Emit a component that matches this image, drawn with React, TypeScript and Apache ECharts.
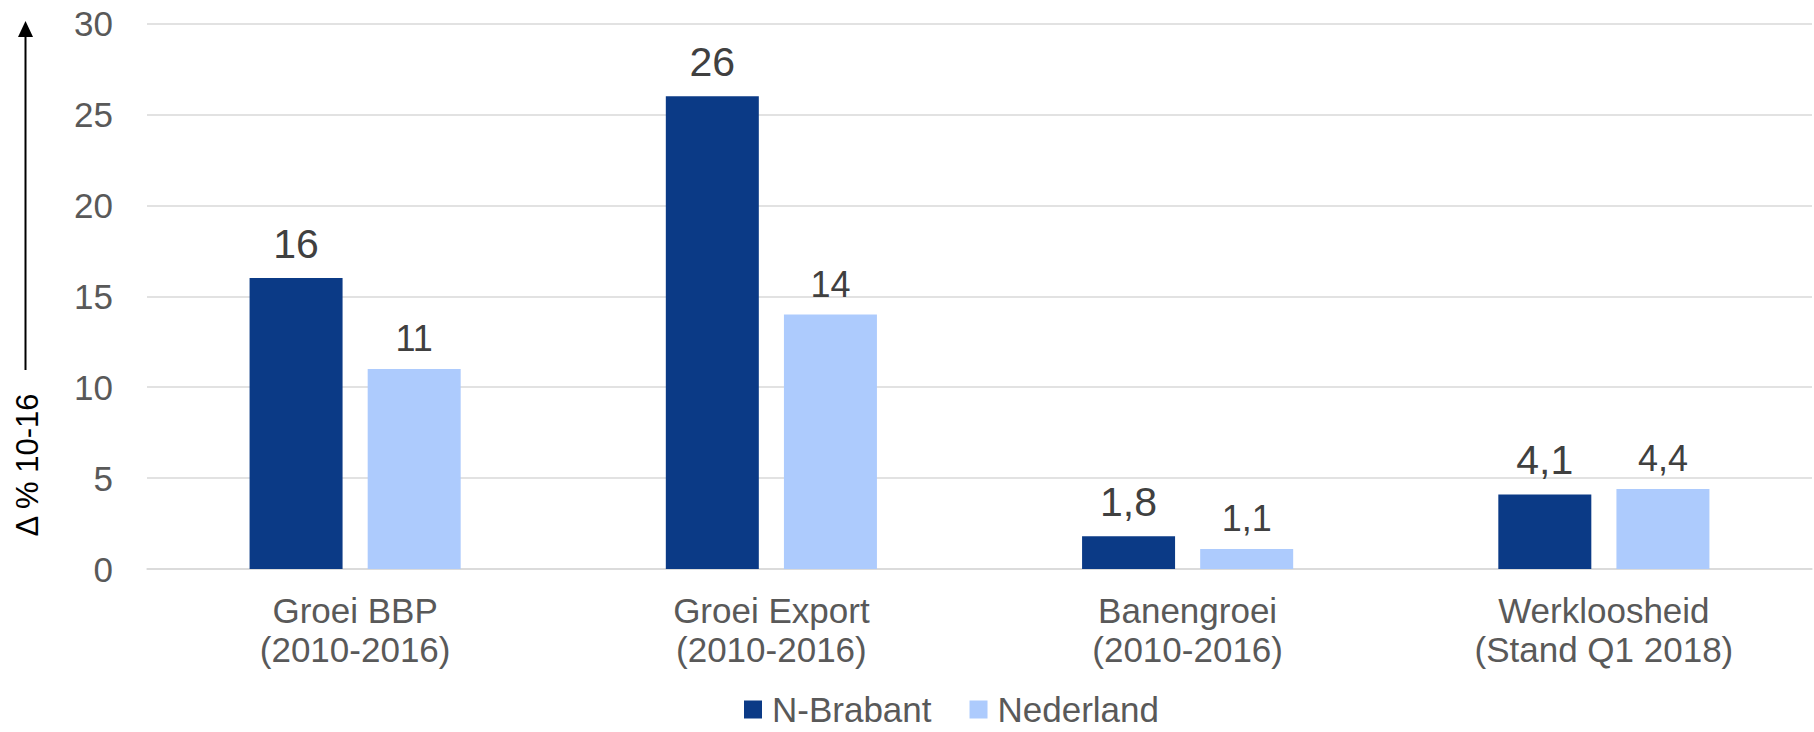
import React, { useEffect, useRef } from "react";
import * as echarts from "echarts";

const categories = [
  "Groei BBP\n(2010-2016)",
  "Groei Export\n(2010-2016)",
  "Banengroei\n(2010-2016)",
  "Werkloosheid\n(Stand Q1 2018)",
];
const seriesNames = ["N-Brabant", "Nederland"];
const brabant = [16, 26, 1.8, 4.1];
const nederland = [11, 14, 1.1, 4.4];
const yTicks = { min: 0, max: 30, interval: 5 };
const yName = "Δ % 10-16";

const FONT = "'Liberation Sans', Arial, sans-serif";
const fmt = (p: any) => String(p.value).replace(".", ",");

export default function App() {
  const ref = useRef<HTMLDivElement>(null);
  useEffect(() => {
    if (!ref.current) return;
    const chart = echarts.init(ref.current, undefined, { renderer: "svg" });
    chart.setOption({
      animation: false,
      backgroundColor: "#ffffff",
      textStyle: { fontFamily: FONT },
      grid: { left: 147, right: 2, top: 23.5, bottom: 163, containLabel: false },
      legend: {
        data: seriesNames,
        left: 744,
        top: 692,
        padding: 0,
        icon: "rect",
        itemWidth: 18,
        itemHeight: 18,
        itemGap: 38,
        textStyle: {
          fontSize: 35,
          lineHeight: 35,
          color: "#595959",
          fontFamily: FONT,
          padding: [0, 0, 0, 5],
        },
      },
      xAxis: {
        type: "category",
        data: categories,
        axisTick: { show: false },
        axisLine: { show: true, lineStyle: { color: "#d9d9d9", width: 1.5 } },
        axisLabel: {
          fontSize: 35,
          lineHeight: 39,
          color: "#595959",
          fontFamily: FONT,
          margin: 22,
          interval: 0,
        },
      },
      yAxis: {
        type: "value",
        min: yTicks.min,
        max: yTicks.max,
        interval: yTicks.interval,
        axisLine: { show: false },
        axisTick: { show: false },
        splitLine: { lineStyle: { color: "#d9d9d9", width: 1.5 } },
        axisLabel: { fontSize: 35, color: "#595959", fontFamily: FONT, margin: 34 },
      },
      graphic: [
        {
          type: "text",
          x: 27,
          y: 465,
          rotation: Math.PI / 2,
          style: {
            text: yName,
            fontSize: 31,
            fontFamily: FONT,
            fill: "#000000",
            align: "center",
            verticalAlign: "middle",
          },
        },
        {
          type: "line",
          shape: { x1: 25.5, y1: 370, x2: 25.5, y2: 34 },
          style: { stroke: "#000000", lineWidth: 2 },
        },
        {
          type: "polygon",
          shape: { points: [[18, 37], [33, 37], [25.5, 21]] },
          style: { fill: "#000000" },
        },
      ],
      series: [
        {
          name: seriesNames[0],
          type: "bar",
          data: brabant,
          barWidth: 93,
          barGap: "27%",
          itemStyle: { color: "#0B3A86" },
          label: {
            show: true,
            position: "top",
            distance: 14,
            fontSize: 41,
            color: "#404040",
            fontFamily: FONT,
            formatter: fmt,
          },
        },
        {
          name: seriesNames[1],
          type: "bar",
          data: nederland,
          barWidth: 93,
          barGap: "27%",
          itemStyle: { color: "#ADCBFD" },
          label: {
            show: true,
            position: "top",
            distance: 12,
            fontSize: 36,
            color: "#404040",
            fontFamily: FONT,
            formatter: fmt,
          },
        },
      ],
    });
    return () => chart.dispose();
  }, []);
  return (
    <div
      ref={ref}
      style={{ position: "fixed", left: 0, top: 0, width: 1814, height: 732 }}
    />
  );
}
